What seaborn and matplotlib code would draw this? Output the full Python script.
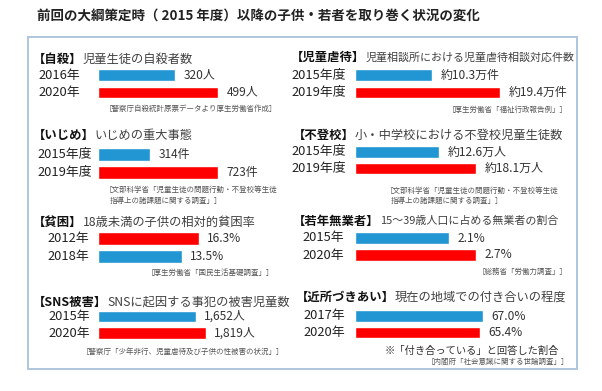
import matplotlib
matplotlib.use("Agg")
import matplotlib.pyplot as plt
import seaborn as sns
import pandas as pd
from matplotlib.patches import Rectangle

# ---------------- data ----------------
title = "前回の大綱策定時（ 2015 年度）以降の子供・若者を取り巻く状況の変化"
tags = ["【自殺】", "【児童虐待】", "【いじめ】", "【不登校】",
        "【貧困】", "【若年無業者】", "【SNS被害】", "【近所づきあい】"]
descs = ["児童生徒の自殺者数", "児童相談所における児童虐待相談対応件数",
         "いじめの重大事態", "小・中学校における不登校児童生徒数",
         "18歳未満の子供の相対的貧困率", "15～39歳人口に占める無業者の割合",
         "SNSに起因する事犯の被害児童数", "現在の地域での付き合いの程度"]
years = [["2016年", "2020年"], ["2015年度", "2019年度"], ["2015年度", "2019年度"],
         ["2015年度", "2019年度"], ["2012年", "2018年"], ["2015年", "2020年"],
         ["2015年", "2020年"], ["2017年", "2020年"]]
values = [[320, 499], [10.3, 19.4], [314, 723], [12.6, 18.1],
          [16.3, 13.5], [2.1, 2.7], [1652, 1819], [67.0, 65.4]]
value_labels = [["320人", "499人"], ["約10.3万件", "約19.4万件"], ["314件", "723件"],
                ["約12.6万人", "約18.1万人"], ["16.3%", "13.5%"], ["2.1%", "2.7%"],
                ["1,652人", "1,819人"], ["67.0%", "65.4%"]]
sources = [["［警察庁自殺統計原票データより厚生労働省作成］"],
           ["［厚生労働省「福祉行政報告例」］"],
           ["［文部科学省「児童生徒の問題行動・不登校等生徒", "指導上の諸課題に関する調査」］"],
           ["［文部科学省「児童生徒の問題行動・不登校等生徒", "指導上の諸課題に関する調査」］"],
           ["［厚生労働省「国民生活基礎調査」］"],
           ["［総務省「労働力調査」］"],
           ["［警察庁「少年非行、児童虐待及び子供の性被害の状況」］"],
           ["［内閣府「社会意識に関する世論調査」］"]]
notes = ["", "", "", "", "", "", "", "※「付き合っている」と回答した割合"]

# ---------------- style / layout (pixels) ----------------
W, H = 602, 391
BLUE, RED = "#2196D3", "#FF0000"
bar_colors = [[BLUE, RED], [BLUE, RED], [BLUE, RED], [BLUE, RED],
              [RED, BLUE], [BLUE, RED], [BLUE, RED], [BLUE, RED]]
bar_x0 = [98, 355, 98, 355, 98, 355, 98, 355]
bar_maxlen = [120, 145, 120, 121, 101, 121, 108, 128]
bar_y = [(75, 92.5), (75, 92.5), (154.5, 172.5), (152, 168.5),
         (238.5, 256.5), (238, 255), (316.5, 333), (316, 332.5)]
year_x = [38, 291, 37, 291, 47, 302, 48, 303]
title_xy = [(33, 59), (291, 57), (33, 135), (293, 135),
            (33, 222), (293, 221), (33, 302), (296, 297)]
desc_size = [8.8, 7.9, 8.8, 8.8, 8.8, 7.9, 8.8, 8.8]
source_xy = [[(105, 109)], [(448, 110)], [(105, 190), (110, 201)],
             [(386, 191), (391, 201)], [(147, 273)], [(478, 272)],
             [(82, 352)], [(427, 362)]]
note_xy = [None] * 7 + [(385, 351)]

sns.set_theme(style="white")
plt.rcParams['font.family'] = ['Noto Sans CJK JP', 'DejaVu Sans']

fig = plt.figure(figsize=(W / 100, H / 100), dpi=100)
fig.patch.set_facecolor("white")

ov = fig.add_axes([0, 0, 1, 1])
ov.set_xlim(0, W)
ov.set_ylim(H, 0)
ov.axis("off")

ov.add_patch(Rectangle((28, 37), 549, 332, facecolor="white",
                       edgecolor="#AFC6DD", linewidth=1.4))
ov.text(37, 16, title, fontsize=9.7, fontweight="bold", color="#222222",
        ha="left", va="center")

for i in range(8):
    # panel title
    tx, ty = title_xy[i]
    t = ov.text(tx, ty, tags[i], fontsize=8.9, fontweight="bold",
                color="#111111", ha="left", va="center")
    ov.annotate(descs[i], xy=(1, 0.5), xycoords=t, ha="left", va="center",
                fontsize=desc_size[i], color="#404040")

    # year labels
    for j in range(2):
        ov.text(year_x[i], bar_y[i][j], years[i][j], fontsize=9.3,
                color="#222222", ha="left", va="center")

    # sources
    for (sx, sy), s in zip(source_xy[i], sources[i]):
        ov.text(sx, sy, s, fontsize=5.4, color="#555555", ha="left", va="center")
    if notes[i]:
        nx, ny = note_xy[i]
        ov.text(nx, ny, notes[i], fontsize=7.4, color="#333333",
                ha="left", va="center")

    # bars
    c1, c2 = bar_y[i]
    sep = c2 - c1
    top = c1 - sep / 2
    h = 2 * sep
    extra = 90
    wpx = bar_maxlen[i] + extra
    ax = fig.add_axes([bar_x0[i] / W, 1 - (top + h) / H, wpx / W, h / H])
    df = pd.DataFrame({"year": years[i], "value": values[i]})
    sns.barplot(data=df, x="value", y="year", hue="year", palette=bar_colors[i],
                orient="h", width=0.68, dodge=False, saturation=1,
                legend=False, ax=ax)
    vmax = max(values[i])
    ax.set_xlim(0, vmax * wpx / bar_maxlen[i])
    ax.set_ylim(1.5, -0.5)
    for cont, lab in zip(ax.containers, value_labels[i]):
        ax.bar_label(cont, labels=[lab], padding=6, fontsize=8.6,
                     color="#333333")
    ax.axis("off")

fig.savefig("out.png", dpi=100)
